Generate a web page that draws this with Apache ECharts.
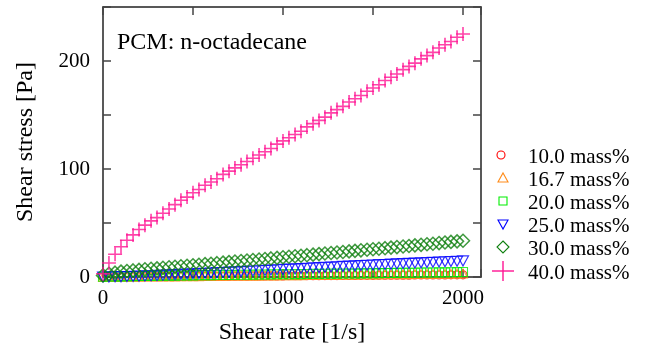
<!DOCTYPE html>
<html>
<head>
<meta charset="utf-8">
<script src="https://cdn.jsdelivr.net/npm/echarts@6/dist/echarts.min.js"></script>
<style>
  html, body { margin: 0; padding: 0; background: #fff; }
  #chart { width: 649px; height: 350px; }
</style>
</head>
<body>
<div id="chart"></div>
<script>
// shear rate [1/s], shared by all series
const shearRate = [0, 33, 67, 100, 133, 167, 200, 233, 267, 300, 333, 367, 400, 433, 467, 500,
  533, 567, 600, 633, 667, 700, 733, 767, 800, 833, 867, 900, 933, 967, 1000,
  1033, 1067, 1100, 1133, 1167, 1200, 1233, 1267, 1300, 1333, 1367, 1400, 1433, 1467, 1500,
  1533, 1567, 1600, 1633, 1667, 1700, 1733, 1767, 1800, 1833, 1867, 1900, 1933, 1967, 2000]

// shear stress [Pa]
const stress10 = [0, 0, 0.1, 0.1, 0.2, 0.2, 0.2, 0.3, 0.3, 0.3, 0.4, 0.4, 0.4, 0.5, 0.5, 0.5,
  0.6, 0.6, 0.6, 0.7, 0.7, 0.7, 0.8, 0.8, 0.8, 0.9, 0.9, 0.9, 1.0, 1.0, 1.0,
  1.1, 1.1, 1.1, 1.2, 1.2, 1.2, 1.3, 1.3, 1.3, 1.4, 1.4, 1.4, 1.5, 1.5, 1.5,
  1.6, 1.6, 1.6, 1.7, 1.7, 1.7, 1.8, 1.8, 1.8, 1.9, 1.9, 1.9, 2.0, 2.0, 2.0]
const stress167 = [0, 0.1, 0.1, 0.2, 0.2, 0.3, 0.3, 0.4, 0.4, 0.5, 0.5, 0.6, 0.6, 0.7, 0.7, 0.8,
  0.8, 0.9, 0.9, 1.0, 1.0, 1.1, 1.1, 1.2, 1.2, 1.3, 1.3, 1.4, 1.4, 1.5, 1.6,
  1.6, 1.7, 1.7, 1.8, 1.8, 1.9, 1.9, 2.0, 2.0, 2.1, 2.1, 2.2, 2.3, 2.3, 2.4,
  2.4, 2.5, 2.5, 2.6, 2.6, 2.7, 2.8, 2.8, 2.9, 2.9, 3.0, 3.0, 3.1, 3.2, 3.2]
const stress20 = [0.2, 0.4, 0.5, 0.6, 0.7, 0.8, 0.9, 1.0, 1.0, 1.1, 1.2, 1.3, 1.3, 1.4, 1.5, 1.5,
  1.6, 1.7, 1.7, 1.8, 1.9, 1.9, 2.0, 2.1, 2.1, 2.2, 2.3, 2.3, 2.4, 2.5, 2.5,
  2.6, 2.7, 2.7, 2.8, 2.9, 2.9, 3.0, 3.1, 3.1, 3.2, 3.3, 3.3, 3.4, 3.5, 3.5,
  3.6, 3.7, 3.7, 3.8, 3.9, 3.9, 4.0, 4.1, 4.1, 4.2, 4.3, 4.3, 4.4, 4.5, 4.6]
const stress25 = [0, 0.1, 0.2, 0.3, 0.4, 0.6, 0.8, 1.0, 1.2, 1.5, 1.7, 2.0, 2.2, 2.5, 2.7, 3.0,
  3.2, 3.5, 3.7, 4.0, 4.2, 4.5, 4.8, 5.0, 5.3, 5.6, 5.8, 6.1, 6.4, 6.7, 7.0,
  7.3, 7.5, 7.8, 8.1, 8.4, 8.7, 9.0, 9.2, 9.5, 9.8, 10.1, 10.3, 10.6, 10.9, 11.1,
  11.4, 11.6, 11.9, 12.1, 12.4, 12.6, 12.9, 13.1, 13.4, 13.6, 13.9, 14.1, 14.4, 14.6, 14.9]
const stress30 = [1.5, 3.0, 4.0, 5.0, 5.6, 6.1, 6.6, 7.1, 7.6, 8.0, 8.5, 9.0, 9.5, 10.0, 10.4, 10.9,
  11.4, 11.9, 12.3, 12.8, 13.3, 13.8, 14.3, 14.8, 15.2, 15.7, 16.2, 16.7, 17.2, 17.7, 18.2,
  18.7, 19.2, 19.7, 20.2, 20.7, 21.2, 21.7, 22.2, 22.7, 23.2, 23.7, 24.2, 24.7, 25.2, 25.7,
  26.2, 26.7, 27.2, 27.7, 28.2, 28.7, 29.3, 29.8, 30.3, 30.8, 31.4, 31.9, 32.5, 33.0, 33.6]
const stress40 = [3, 13, 21, 28, 34, 39, 44, 48, 52, 55, 59, 63, 67, 71, 74, 78,
  81, 85, 88, 91, 95, 98, 101, 104, 107, 110, 113, 116, 119, 123, 126,
  129, 132, 135, 139, 142, 145, 148, 152, 155, 158, 162, 165, 168, 172, 175,
  178, 182, 185, 188, 192, 195, 198, 202, 205, 208, 212, 215, 218, 222, 225]

const seriesNames = ['10.0 mass%', '16.7 mass%', '20.0 mass%', '25.0 mass%', '30.0 mass%', '40.0 mass%']
const seriesValues = [stress10, stress167, stress20, stress25, stress30, stress40]

const xTicks = [0, 1000, 2000]
const yTicks = [0, 100, 200]

const FONT = 'Liberation Serif'
const colors = ['#ff0000', '#ff8c1a', '#00ee00', '#0000ff', '#0f800f', '#ff1493']
const symbols = ['circle', 'triangle', 'rect', 'triangle', 'diamond', 'path://M0,7H14M7,0V14']
const sizes = [8, 9, 9, [11, 10], 13, 14]
const rotates = [0, 0, 0, 180, 0, 0]
const widths = [1.1, 1.1, 1.1, 1.2, 1.5, 1.6]

const myChart = echarts.init(document.getElementById('chart'))

const frameAxis = {
    axisLine: { show: true, onZero: false, lineStyle: { color: '#222', width: 1.5 } },
    axisTick: { show: true, inside: true, length: 8, lineStyle: { color: '#444', width: 1.5 } },
    splitLine: { show: false }
}

// legend drawn by hand so the symbol sizes follow the picture
const legendRows = [155, 178, 201, 224, 247, 271]
const legendX = 503
const legendIcon = (i, y) => {
    const st = { fill: 'none', stroke: colors[i], lineWidth: 1.1 }
    if (i === 0) return [{ type: 'circle', shape: { cx: legendX - 2, cy: y, r: 4 }, style: st }]
    if (i === 1) return [{ type: 'polygon', shape: { points: [[legendX - 5, y + 4], [legendX + 5, y + 4], [legendX, y - 5]] }, style: st }]
    if (i === 2) return [{ type: 'rect', shape: { x: legendX - 4, y: y - 4, width: 8, height: 8 }, style: st }]
    if (i === 3) return [{ type: 'polygon', shape: { points: [[legendX - 5, y - 4], [legendX + 5, y - 4], [legendX, y + 5]] }, style: st }]
    if (i === 4) return [{ type: 'polygon', shape: { points: [[legendX, y - 6], [legendX + 6, y], [legendX, y + 6], [legendX - 6, y]] }, style: st }]
    const cs = { stroke: colors[i], lineWidth: 1.4 }
    return [
        { type: 'line', shape: { x1: legendX - 11, y1: y, x2: legendX + 11, y2: y }, style: cs },
        { type: 'line', shape: { x1: legendX, y1: y - 10, x2: legendX, y2: y + 10 }, style: cs }
    ]
}
const legendGraphics = []
seriesNames.forEach((name, i) => {
    legendIcon(i, legendRows[i]).forEach(g => legendGraphics.push(g))
    legendGraphics.push({
        type: 'text', x: 528, y: legendRows[i] + 2,
        style: { text: name, font: '21px "' + FONT + '"', fill: '#000', verticalAlign: 'middle' }
    })
})

myChart.setOption({
    animation: false,
    title: {
        text: 'PCM: n-octadecane',
        left: 112, top: 26,
        textStyle: { fontFamily: FONT, fontSize: 24, fontWeight: 'normal', color: '#000' }
    },
    grid: { left: 103, right: 168, top: 7, bottom: 73 },
    xAxis: [{
        ...frameAxis,
        type: 'value', min: 0, max: 2100, interval: 500, position: 'bottom',
        name: 'Shear rate [1/s]', nameLocation: 'middle', nameGap: 44,
        nameTextStyle: { fontFamily: FONT, fontSize: 24, color: '#000' },
        axisLabel: {
            margin: 11, fontFamily: FONT, fontSize: 21, color: '#000',
            formatter: v => xTicks.includes(v) ? String(v) : ''
        }
    }, {
        ...frameAxis,
        type: 'value', min: 0, max: 2100, interval: 500, position: 'top',
        axisLabel: { show: false }
    }],
    yAxis: [{
        ...frameAxis,
        type: 'value', min: 0, max: 250, interval: 50, position: 'left',
        name: 'Shear stress [Pa]', nameLocation: 'middle', nameGap: 65,
        nameTextStyle: { fontFamily: FONT, fontSize: 24, color: '#000' },
        axisLabel: {
            margin: 13, fontFamily: FONT, fontSize: 21, color: '#000',
            formatter: v => yTicks.includes(v) ? String(v) : ''
        }
    }, {
        ...frameAxis,
        type: 'value', min: 0, max: 250, interval: 50, position: 'right',
        axisLabel: { show: false }
    }],
    graphic: legendGraphics,
    series: seriesNames.map((name, i) => ({
        name: name,
        type: 'scatter',
        xAxisIndex: 0,
        yAxisIndex: 0,
        clip: false,
        symbol: symbols[i],
        symbolSize: sizes[i],
        symbolRotate: rotates[i],
        itemStyle: { color: 'rgba(0,0,0,0)', borderColor: colors[i], borderWidth: widths[i] },
        data: shearRate.map((x, k) => [x, seriesValues[i][k]])
    }))
})
</script>
</body>
</html>
